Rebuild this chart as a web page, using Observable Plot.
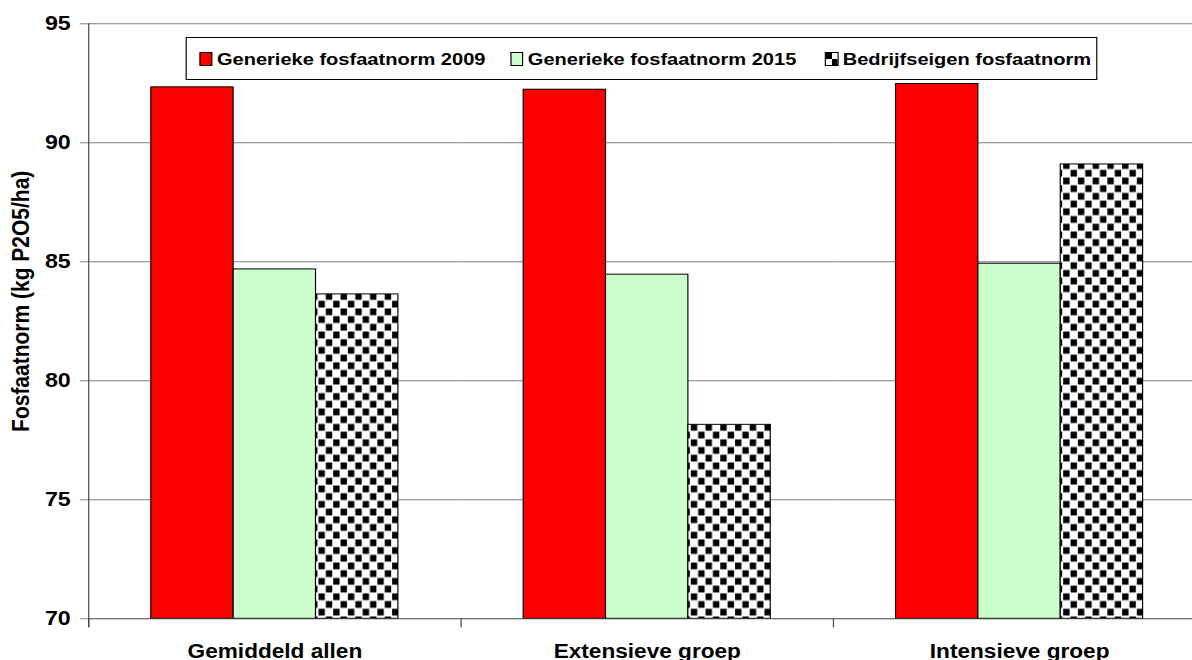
<!DOCTYPE html>
<html><head><meta charset="utf-8">
<script src="https://cdn.jsdelivr.net/npm/d3@7"></script>
<script src="https://cdn.jsdelivr.net/npm/@observablehq/plot@0.6"></script>
<style>
html,body{margin:0;padding:0;background:#fff;overflow:hidden;}
#wrap{position:relative;width:1042px;height:660px;transform:scaleX(1.16);transform-origin:0 0;font-family:"Liberation Sans",Arial,sans-serif;}
#wrap svg{display:block;}
.legend{position:absolute;left:159.5px;top:37px;width:786px;height:43px;box-sizing:border-box;border:1px solid #000;background:#fff;}
.sw{position:absolute;top:14px;width:11.5px;height:13.5px;border:1px solid #000;box-sizing:border-box;}
.lt{position:absolute;top:11px;font-weight:bold;font-size:17.3px;line-height:20px;white-space:nowrap;color:#000;}
</style>
</head><body>
<div id="wrap"></div>
<script>
// ---- data ----
const categories = ["Gemiddeld allen", "Extensieve groep", "Intensieve groep"];
const series = ["Generieke fosfaatnorm 2009", "Generieke fosfaatnorm 2015", "Bedrijfseigen fosfaatnorm"];
const norm2009 = [92.33, 92.23, 92.47];
const norm2015 = [84.68, 84.46, 84.92];
const bedrijfseigen = [83.63, 78.15, 89.09];
const yTicks = [70, 75, 80, 85, 90, 95];
const yTitle = "Fosfaatnorm (kg P2O5/ha)";
const seriesFill = ["#ff0000", "#ccffcc", "url(#checker)"];

const values = [norm2009, norm2015, bedrijfseigen];
const rows = series.flatMap((s, i) => categories.map((c, j) => ({category: c, series: s, value: values[i][j]})));

const W = 1042, H = 660, mT = 23.3, mB = 41.7, mL = 75, mR = 2;
const chart = Plot.plot({
  width: W, height: H,
  marginTop: mT, marginBottom: mB, marginLeft: mL, marginRight: mR,
  style: {fontFamily: '"Liberation Sans", Arial, sans-serif', background: "transparent", overflow: "visible", color: "#000"},
  fx: {domain: categories, padding: 0},
  x: {domain: series, paddingInner: 0, paddingOuter: 0.747, axis: null},
  y: {domain: [70, 95]},
  color: {domain: series, range: seriesFill},
  marks: [
    Plot.gridY(yTicks.slice(1), {stroke: "#808080", strokeOpacity: 1}),
    Plot.barY(rows, {fx: "category", x: "series", y1: 70, y2: "value", fill: "series", stroke: "#000", strokeWidth: 1}),
    Plot.ruleY([70], {stroke: "#404040"}),
    Plot.frame({anchor: "left", fx: categories[0], insetBottom: -8, stroke: "#404040"}),
    Plot.frame({anchor: "left", insetTop: H - mT - mB, insetBottom: -8, stroke: "#404040"}),
    Plot.axisY({ticks: yTicks, tickSize: 7, tickPadding: 8.5, fontSize: 20, fontWeight: "bold", label: null, stroke: "#808080", fill: "#000"}),
    Plot.axisFx({anchor: "bottom", tickSize: 0, tickPadding: 25, fontSize: 19.5, fontWeight: "bold", label: null, fill: "#000"}),
    Plot.text([yTitle], {fx: () => categories[0], text: d => d, frameAnchor: "left", textAnchor: "middle", rotate: -90, dx: -57.8, dy: -20, fontSize: 21, fontWeight: "bold", lineAnchor: "middle", fill: "#000"})
  ]
});

const svg = chart.tagName.toLowerCase() === "svg" ? chart : chart.querySelector("svg");
const defs = d3.select(svg).insert("defs", ":first-child");
const pat = defs.append("pattern").attr("id", "checker").attr("patternUnits", "userSpaceOnUse")
  .attr("width", 12.7).attr("height", 15.4);
pat.append("rect").attr("width", 12.7).attr("height", 15.4).attr("fill", "#fff");
pat.append("rect").attr("x", 0.5).attr("y", 0.5).attr("width", 5.5).attr("height", 6.7).attr("fill", "#000");
pat.append("rect").attr("x", 6.85).attr("y", 8.2).attr("width", 5.5).attr("height", 6.7).attr("fill", "#000");

const wrap = document.getElementById("wrap");
wrap.appendChild(chart);

// legend (inside the plot area, as in the reference)
const legend = d3.select(wrap).append("div").attr("class", "legend");
const swLeft = [11, 279, 550.5];
const txLeft = [26.5, 294.5, 566];
series.forEach((s, i) => {
  const sw = legend.append("div").attr("class", "sw").style("left", swLeft[i] + "px");
  if (i === 2) {
    sw.style("background", "conic-gradient(#fff 0 25%, #000 0 50%, #fff 0 75%, #000 0)");
  } else {
    sw.style("background", seriesFill[i]);
  }
  legend.append("div").attr("class", "lt").style("left", txLeft[i] + "px").text(s);
});
</script>
</body></html>
